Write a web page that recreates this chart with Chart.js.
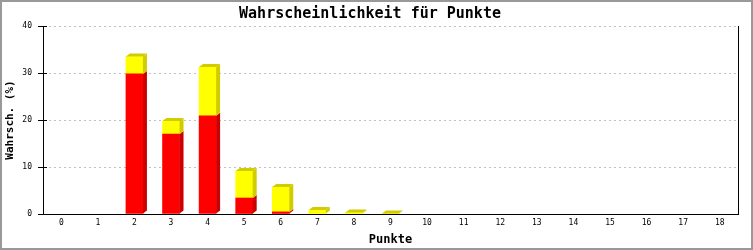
<!DOCTYPE html>
<html>
<head>
<meta charset="utf-8">
<script src="https://cdn.jsdelivr.net/npm/chart.js@4"></script>
<style>
  html, body { margin: 0; padding: 0; background: #fff; }
  #wrap { width: 753px; height: 250px; }
</style>
</head>
<body>
<div id="wrap"><canvas id="chart"></canvas></div>
<script>
const punkte = ['0', '1', '2', '3', '4', '5', '6', '7', '8', '9', '10', '11', '12', '13', '14', '15', '16', '17', '18'];
const rotWerte = [0, 0, 29.8, 17.0, 20.9, 3.4, 0.45, 0, 0, 0, 0, 0, 0, 0, 0, 0, 0, 0, 0];
const gelbWerte = [0, 0, 3.7, 2.8, 10.4, 5.75, 5.3, 0.85, 0.3, 0.1, 0, 0, 0, 0, 0, 0, 0, 0, 0];
const yTicks = [0, 10, 20, 30, 40];

const mono = 'DejaVu Sans Mono';

// 3D-Effekt: Seiten- und Deckflaeche fuer jeden Balken
const bars3d = {
    id: 'bars3d',
    afterDatasetsDraw(chart) {
        const ctx = chart.ctx;
        const dx = 4, dy = 3;
        const sideColors = ['#cc0000', '#d0cc00'];
        const nSets = chart.data.datasets.length;
        for (let i = 0; i < nSets; i++) {
            const meta = chart.getDatasetMeta(i);
            meta.data.forEach((bar, j) => {
                const v = chart.data.datasets[i].data[j];
                if (!v) return;
                const { x, y, base, width } = bar.getProps(['x', 'y', 'base', 'width'], true);
                const l = x - width / 2, r = x + width / 2;
                ctx.save();
                ctx.fillStyle = sideColors[i];
                ctx.beginPath();
                ctx.moveTo(r, y);
                ctx.lineTo(r + dx, y - dy);
                ctx.lineTo(r + dx, base - dy);
                ctx.lineTo(r, base);
                ctx.closePath();
                ctx.fill();
                // Deckflaeche nur beim obersten sichtbaren Segment
                let isTop = true;
                for (let k = i + 1; k < nSets; k++) {
                    if (chart.data.datasets[k].data[j]) isTop = false;
                }
                if (isTop) {
                    ctx.beginPath();
                    ctx.moveTo(l, y);
                    ctx.lineTo(l + dx, y - dy);
                    ctx.lineTo(r + dx, y - dy);
                    ctx.lineTo(r, y);
                    ctx.closePath();
                    ctx.fill();
                }
                ctx.restore();
            });
        }
    }
};

const frame = {
    id: 'frame',
    beforeDraw(chart) {
        const ctx = chart.ctx;
        ctx.save();
        ctx.fillStyle = '#ffffff';
        ctx.fillRect(0, 0, chart.width, chart.height);
        ctx.restore();
    },
    afterDraw(chart) {
        const ctx = chart.ctx;
        const a = chart.chartArea;
        ctx.save();
        ctx.strokeStyle = '#000';
        ctx.lineWidth = 1;
        ctx.beginPath();
        ctx.moveTo(Math.round(a.right) + 0.5, a.top);
        ctx.lineTo(Math.round(a.right) + 0.5, a.bottom);
        ctx.stroke();
        // Tickmarks ragen auch nach innen
        const ys = chart.scales.y;
        ctx.beginPath();
        yTicks.forEach(t => {
            const py = Math.round(ys.getPixelForValue(t)) + 0.5;
            ctx.moveTo(a.left, py);
            ctx.lineTo(a.left + 4, py);
        });
        ctx.stroke();
        ctx.strokeStyle = '#999999';
        ctx.lineWidth = 2;
        ctx.strokeRect(1, 1, chart.width - 2, chart.height - 2);
        ctx.restore();
    }
};

const ctx = document.getElementById('chart').getContext('2d');
new Chart(ctx, {
    type: 'bar',
    data: {
        labels: punkte,
        datasets: [{
            label: 'rot',
            data: rotWerte.map(v => v || null),
            backgroundColor: '#ff0000',
            borderWidth: 0
        }, {
            label: 'gelb',
            data: gelbWerte.map(v => v || null),
            backgroundColor: '#ffff00',
            borderWidth: 0
        }]
    },
    options: {
        responsive: true,
        maintainAspectRatio: false,
        animation: false,
        events: [],
        datasets: {
            bar: { barThickness: 17, categoryPercentage: 1, skipNull: false }
        },
        layout: { padding: { left: 2, right: 15, top: 0, bottom: 0 } },
        plugins: {
            legend: { display: false },
            tooltip: { enabled: false },
            title: {
                display: true,
                text: 'Wahrscheinlichkeit für Punkte',
                color: '#000',
                font: { family: mono, size: 15, weight: 'bold' },
                padding: { top: 5, bottom: 3 }
            }
        },
        scales: {
            x: {
                stacked: true,
                grid: { display: false, drawTicks: false },
                border: { display: true, color: '#000', width: 1 },
                ticks: {
                    color: '#000',
                    font: { family: mono, size: 8 },
                    padding: 4,
                    maxRotation: 0,
                    autoSkip: false
                },
                title: {
                    display: true,
                    text: 'Punkte',
                    color: '#000',
                    font: { family: mono, size: 12, weight: 'bold' },
                    padding: { top: 0, bottom: 3 }
                },
                afterFit(scale) { scale.height = 36; }
            },
            y: {
                stacked: true,
                min: 0,
                max: 40,
                afterBuildTicks(scale) { scale.ticks = yTicks.map(v => ({ value: v })); },
                grid: {
                    color: '#c0c0c0',
                    tickColor: '#000',
                    tickLength: 5,
                    tickBorderDash: [],
                    drawOnChartArea: true
                },
                border: { display: true, color: '#000', width: 1, dash: [2, 3] },
                ticks: {
                    color: '#000',
                    font: { family: mono, size: 8 },
                    padding: 6
                },
                title: {
                    display: true,
                    text: 'Wahrsch. (%)',
                    color: '#000',
                    font: { family: mono, size: 11, weight: 'bold' },
                    padding: { top: 2, bottom: 0 }
                },
                afterFit(scale) { scale.width = 41; }
            }
        }
    },
    plugins: [frame, bars3d]
});
</script>
</body>
</html>
